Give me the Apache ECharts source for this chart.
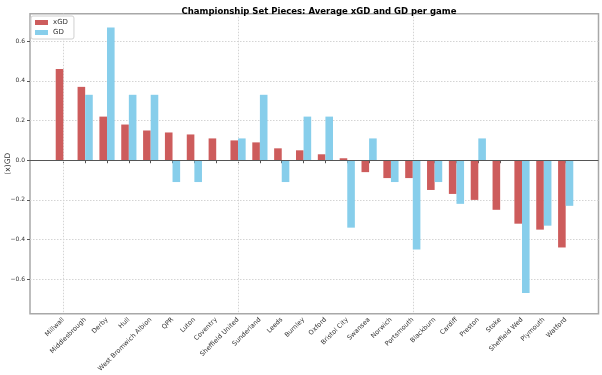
<!DOCTYPE html>
<html>
<head>
<meta charset="utf-8">
<script src="https://cdn.jsdelivr.net/npm/echarts@6/dist/echarts.min.js"></script>
<style>
  html, body { margin: 0; padding: 0; background: #fff; }
  #chart { width: 602px; height: 375px; }
</style>
</head>
<body>
<div id="chart"></div>
<script>
const teams = ['Millwall', 'Middlesbrough', 'Derby', 'Hull', 'West Bromwich Albion', 'QPR', 'Luton',
    'Coventry', 'Sheffield United', 'Sunderland', 'Leeds', 'Burnley', 'Oxford', 'Bristol City',
    'Swansea', 'Norwich', 'Portsmouth', 'Blackburn', 'Cardiff', 'Preston', 'Stoke',
    'Sheffield Wed', 'Plymouth', 'Watford'];
const xgd = [0.46, 0.37, 0.22, 0.18, 0.15, 0.14, 0.13, 0.11, 0.10, 0.09, 0.06, 0.05, 0.03, 0.01,
    -0.06, -0.09, -0.09, -0.15, -0.17, -0.20, -0.25, -0.32, -0.35, -0.44];
const gd = [0, 0.33, 0.67, 0.33, 0.33, -0.11, -0.11, 0, 0.11, 0.33, -0.11, 0.22, 0.22, -0.34,
    0.11, -0.11, -0.45, -0.11, -0.22, 0.11, 0, -0.67, -0.33, -0.23];
const yTicks = [-0.6, -0.4, -0.2, 0, 0.2, 0.4, 0.6];
const yMin = -0.774;
const yMax = 0.739;

const font = 'DejaVu Sans';
const fmt = v => v.toFixed(1).replace('-', '\u2212');
const gridLine = { color: '#d4d4d4', type: [1.5, 1.5], width: 1 };

const chart = echarts.init(document.getElementById('chart'));
chart.setOption({
    animation: false,
    textStyle: { fontFamily: font },
    title: {
        text: 'Championship Set Pieces: Average xGD and GD per game',
        left: 314,
        textAlign: 'center',
        top: 2,
        textStyle: { fontSize: 8.5, fontWeight: 'bold', color: '#000', fontFamily: font }
    },
    legend: {
        data: ['xGD', 'GD'],
        orient: 'vertical',
        left: 31,
        top: 16,
        padding: [3, 6, 3, 4],
        itemGap: 3,
        itemWidth: 13,
        itemHeight: 5,
        icon: 'rect',
        borderColor: '#d0d0d0',
        borderWidth: 1,
        borderRadius: 2,
        backgroundColor: '#fff',
        z: 10,
        textStyle: { fontSize: 7, color: '#333', fontFamily: font }
    },
    grid: [
        // outer frame, y axis
        { left: 30, right: 3.5, top: 13.7, bottom: 61.3, outerBoundsMode: 'none', containLabel: false, show: true, borderColor: '#a8a8a8', borderWidth: 1.5, backgroundColor: 'transparent' },
        // bars
        { left: 52.4, right: 25.4, top: 13.7, bottom: 61.3, outerBoundsMode: 'none', containLabel: false }
    ],
    xAxis: [
        { gridIndex: 0, type: 'value', min: 0, max: 1, show: false },
        {
            gridIndex: 1,
            type: 'category',
            data: teams,
            position: 'bottom',
            axisLine: { show: false },
            axisTick: { show: true, alignWithLabel: true, length: 3, lineStyle: { color: '#555' } },
            axisLabel: { rotate: 45, fontSize: 6.5, color: '#333', margin: 5, interval: 0 },
            splitLine: { show: false }
        },
        {
            gridIndex: 1,
            type: 'category',
            data: teams,
            position: 'top',
            axisLine: { show: false },
            axisTick: { show: true, inside: true, alignWithLabel: true, length: 300, lineStyle: gridLine },
            axisLabel: { show: false },
            splitLine: { show: false }
        }
    ],
    yAxis: [
        {
            gridIndex: 0,
            type: 'value',
            min: yMin,
            max: yMax,
            name: '(x)GD',
            nameLocation: 'middle',
            nameGap: 18,
            nameMoveOverlap: false,
            nameTextStyle: { fontSize: 7.5, color: '#333' },
            axisLine: { show: false },
            axisTick: { show: true, length: 3, customValues: yTicks, lineStyle: { color: '#555' } },
            axisLabel: { fontSize: 6, color: '#333', margin: 5, customValues: yTicks, formatter: fmt },
            splitLine: { show: true, lineStyle: gridLine }
        },
        { gridIndex: 1, type: 'value', min: yMin, max: yMax, show: false, splitLine: { show: false } }
    ],
    series: [
        {
            name: 'xGD',
            type: 'bar',
            xAxisIndex: 1,
            yAxisIndex: 1,
            data: xgd,
            barWidth: 7.6,
            barGap: '0%',
            itemStyle: { color: '#CD5C5C' }
        },
        {
            name: 'GD',
            type: 'bar',
            xAxisIndex: 1,
            yAxisIndex: 1,
            data: gd,
            barWidth: 7.6,
            barGap: '0%',
            itemStyle: { color: '#87CEEB' }
        },
        {
            name: 'zero',
            type: 'line',
            xAxisIndex: 0,
            yAxisIndex: 0,
            data: [],
            z: 5,
            markLine: {
                silent: true,
                symbol: 'none',
                label: { show: false },
                lineStyle: { color: '#555', width: 1.2, type: 'solid' },
                data: [{ yAxis: 0 }]
            }
        }
    ]
});
</script>
</body>
</html>
